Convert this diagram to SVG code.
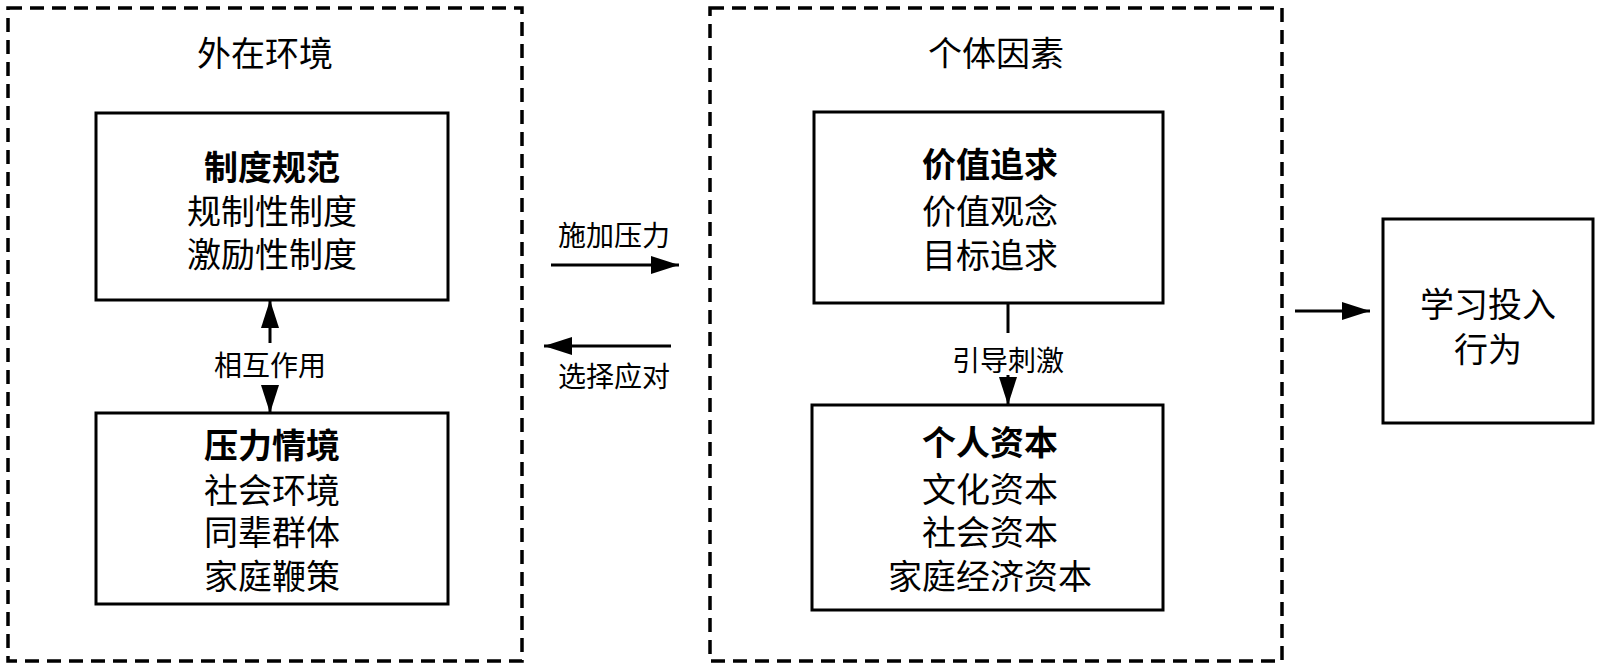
<svg xmlns="http://www.w3.org/2000/svg" width="1600" height="669" viewBox="0 0 1600 669">
<style>
text{font-family:"Noto Sans CJK SC","Noto Sans",sans-serif;fill:#000;text-anchor:middle;dominant-baseline:central}
.t{font-size:34px}
.b{font-size:34px;font-weight:bold}
.l{font-size:28px}
.box{fill:#fff;stroke:#000;stroke-width:3}
.grp{fill:none;stroke:#000;stroke-width:3.5;stroke-dasharray:14 8}
.c{stroke:#000;stroke-width:3;fill:none}
</style>
<defs>
<marker id="ah" viewBox="0 0 28 18" refX="28" refY="9" markerWidth="28" markerHeight="18" markerUnits="userSpaceOnUse" orient="auto-start-reverse">
<path d="M0,0 L28,9 L0,18 Z" fill="#000"/>
</marker>
</defs>
<rect width="1600" height="669" fill="#fff"/>
<g id="outer">
<rect class="grp" x="8" y="8" width="514" height="653"/>
<text class="t" x="265" y="51">外在环境</text>
</g>
<g id="individual">
<rect class="grp" x="710" y="8" width="572" height="653"/>
<text class="t" x="996" y="51">个体因素</text>
</g>
<g id="zhidu">
<rect class="box" x="96" y="113" width="352" height="187"/>
<text class="b" x="272" y="165">制度规范</text>
<text class="t" x="272" y="209">规制性制度</text>
<text class="t" x="272" y="252">激励性制度</text>
</g>
<g id="yali">
<rect class="box" x="96" y="413" width="352" height="191"/>
<text class="b" x="272" y="443">压力情境</text>
<text class="t" x="272" y="488">社会环境</text>
<text class="t" x="272" y="530">同辈群体</text>
<text class="t" x="272" y="574">家庭鞭策</text>
</g>
<g id="jiazhi">
<rect class="box" x="814" y="112" width="349" height="191"/>
<text class="b" x="990" y="162">价值追求</text>
<text class="t" x="990" y="209">价值观念</text>
<text class="t" x="990" y="253">目标追求</text>
</g>
<g id="ziben">
<rect class="box" x="812" y="405" width="351" height="205"/>
<text class="b" x="990" y="440">个人资本</text>
<text class="t" x="990" y="487">文化资本</text>
<text class="t" x="990" y="530">社会资本</text>
<text class="t" x="990" y="574">家庭经济资本</text>
</g>
<g id="xuexi">
<rect class="box" x="1383" y="219" width="210" height="204"/>
<text class="t" x="1488" y="302">学习投入</text>
<text class="t" x="1488" y="347">行为</text>
</g>
<g id="connectors">
<line class="c" x1="270" y1="343" x2="270" y2="300" marker-end="url(#ah)"/>
<line class="c" x1="270" y1="386" x2="270" y2="413" marker-end="url(#ah)"/>
<text class="l" x="270" y="364">相互作用</text>
<line class="c" x1="551" y1="265" x2="679" y2="265" marker-end="url(#ah)"/>
<text class="l" x="614" y="234">施加压力</text>
<line class="c" x1="671" y1="346" x2="544" y2="346" marker-end="url(#ah)"/>
<text class="l" x="614" y="375">选择应对</text>
<line class="c" x1="1008" y1="303" x2="1008" y2="333"/>
<line class="c" x1="1008" y1="375" x2="1008" y2="405" marker-end="url(#ah)"/>
<text class="l" x="1008" y="359">引导刺激</text>
<line class="c" x1="1295" y1="311" x2="1370" y2="311" marker-end="url(#ah)"/>
</g>
</svg>
